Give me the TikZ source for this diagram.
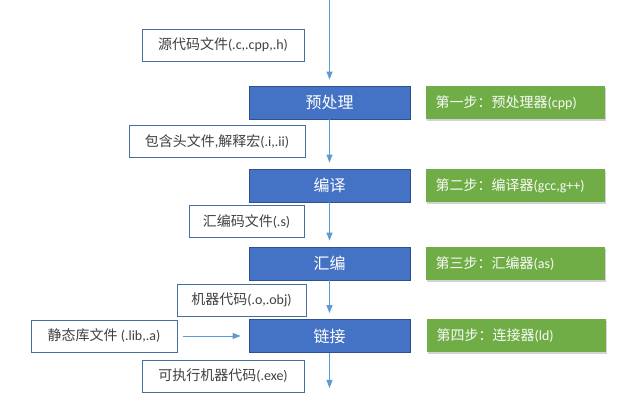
\documentclass[tikz,border=0pt]{standalone}
\usepackage{fontspec}
\setmainfont{Carlito}
\newfontfamily\cjk{Noto Sans CJK SC}
\usetikzlibrary{arrows.meta, positioning, shadows}
\definecolor{StepBlue}{RGB}{68,114,196}
\definecolor{StepRule}{RGB}{47,82,143}
\definecolor{ToolGreen}{RGB}{112,173,71}
\definecolor{FlowBlue}{RGB}{91,155,213}
\definecolor{NoteRule}{RGB}{65,113,156}
\definecolor{NoteText}{RGB}{64,64,64}
\newcommand{\zh}[1]{{\cjk #1}}

\begin{document}
\begin{tikzpicture}[
  x=0.75pt, y=-0.75pt,
  stage/.style={draw=StepRule, fill=StepBlue, line width=0.6pt, text=white,
                minimum width=120.75pt, minimum height=24.75pt,
                font=\fontsize{12}{14}\selectfont},
  tool/.style={fill=ToolGreen, text=white!95!ToolGreen,
               drop shadow={shadow xshift=1pt, shadow yshift=-1.5pt, opacity=0.35},
               minimum height=24.75pt, inner xsep=7.5pt,
               text width=119.25pt, align=left,
               font=\fontsize{10.5}{12}\selectfont},
  note/.style={draw=NoteRule, fill=white, line width=0.6pt, text=NoteText,
               minimum height=24pt, font=\fontsize{10.5}{12}\selectfont},
  flow/.style={-{Triangle[length=6pt, width=4.5pt]}, draw=FlowBlue,
               line width=0.7pt, shorten >=4.5pt}
]
\useasboundingbox (0,0) rectangle (640,406);
% main column
\node[stage] (pre)  at (329.5,102.5) {\zh{预处理}};
\node[stage] (comp) at (329.5,185.5) {\zh{编译}};
\node[stage] (asm)  at (329.5,263.5) {\zh{汇编}};
\node[stage] (link) at (329.5,336)   {\zh{链接}};
% tools
\node[tool, right=11.25pt of pre]  (s1) {\zh{第一步：预处理器}(cpp)};
\node[tool, right=11.25pt of comp] (s2) {\zh{第二步：编译器}(gcc,g++)};
\node[tool, right=11.25pt of asm]  (s3) {\zh{第三步：汇编器}(as)};
\node[tool, right=12pt of link]    (s4) {\zh{第四步：连接器}(ld)};
% files
\node[note, minimum width=121.5pt]  (src)  at (223,45)    {\zh{源代码文件}(.c,.cpp,.h)};
\node[note, minimum width=132pt]    (inc)  at (217,141.5) {\zh{包含头文件},\zh{解释宏}(.i,.ii)};
\node[note, minimum width=86.25pt]  (asmf) at (246.5,221.5) {\zh{汇编码文件}(.s)};
\node[note, minimum width=96.75pt]  (obj)  at (241.5,300) {\zh{机器代码}(.o,.obj)};
\node[note, minimum width=109.5pt]  (lib)  at (104,336)   {\zh{静态库文件} (.lib,.a)};
\node[note, minimum width=121.5pt]  (exe)  at (223,376)   {\zh{可执行机器代码}(.exe)};
\coordinate (top) at (329.5,0);
\coordinate (end) at (329.5,388);
% arrows
\draw[flow] (top) -- (pre);
\draw[flow] (pre) -- (comp);
\draw[flow] (comp) -- (asm);
\draw[flow] (asm) -- (link);
\draw[flow, shorten >=0pt] (link) -- (end);
\draw[flow, shorten <=4.5pt, shorten >=6pt] (lib) -- (link);
\end{tikzpicture}
\end{document}
